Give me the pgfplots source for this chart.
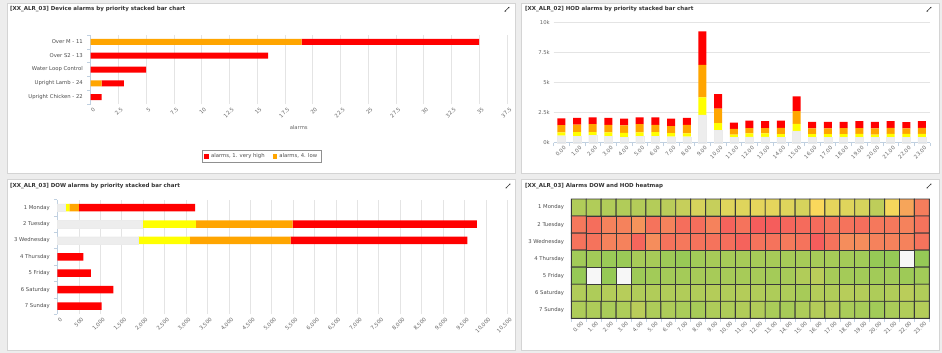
\documentclass[border=0pt]{standalone}
\usepackage{fontspec}
\setmainfont{DejaVu Sans}
\usepackage{pgfplots}
\usepackage{pgfplotstable}
\pgfplotsset{compat=1.18}
\usetikzlibrary{arrows.meta}
\definecolor{bg}{HTML}{EDEDED}
\definecolor{pborder}{HTML}{D4D4D4}
\definecolor{axc}{HTML}{C0D0E0}
\definecolor{gridc}{HTML}{E4E4E4}
\definecolor{txt}{HTML}{666666}
\definecolor{lab}{HTML}{4D4D4D}
\definecolor{ttl}{HTML}{333333}
\definecolor{legc}{HTML}{909090}
\definecolor{hred}{HTML}{FF0000}
\definecolor{horange}{HTML}{FFA500}
\definecolor{hyellow}{HTML}{FFFF00}
\definecolor{hgray}{HTML}{EDEDED}
\definecolor{hmgrid}{HTML}{3A3A3A}
\definecolor{hmwhite}{HTML}{F7F7F7}
\newcommand\tk{\fontsize{5.3}{6}\selectfont}
\newcommand\tf{\fontsize{5.5}{6.5}\selectfont\bfseries}
\pgfplotsset{
  hc/.style={
    scale only axis,
    anchor=north west,
    tick label style={font=\tk, text=txt},
    /pgf/number format/assume math mode=true,
    scaled x ticks=false, scaled y ticks=false,
    tick align=outside,
    major tick length=0pt,
    minor tick length=3.5pt,
    minor tick style={draw=axc, line width=0.5pt},
    major grid style={draw=gridc, line width=0.6pt},
    clip=false,
    axis lines*=left,
  },
  rotx/.style={xticklabel style={rotate=45, anchor=north east, inner sep=0.5pt, yshift=-3pt}},
}
\pgfplotstableread{
h g y o r
0 580 270 610 570
1 550 330 630 550
2 600 280 660 570
3 550 300 630 580
4 440 380 610 570
5 520 330 690 570
6 520 360 600 630
7 500 300 570 630
8 500 270 710 580
9 2320 1440 2710 2770
10 1020 610 1190 1220
11 470 210 460 520
12 490 280 440 630
13 490 280 440 580
14 470 240 530 600
15 990 570 1070 1210
16 470 240 470 550
17 470 240 470 550
18 470 240 500 520
19 470 270 470 580
20 470 210 500 550
21 470 270 500 550
22 470 270 440 520
23 470 270 500 550
}\hod
\pgfplotstableread{
d g y o r
6 175 100 226 2709
5 1965 1268 2257 4300
4 1886 1207 2350 4123
3 0 0 0 602
2 0 0 0 782
1 0 0 0 1302
0 0 0 0 1032
}\dow
\pgfplotstableread{
d o r
4 19 16
3 0 16
2 0 5
1 1 2
0 0 1
}\dev
\begin{document}
\begin{tikzpicture}
\useasboundingbox (0,0) rectangle (942pt,-353pt);
\fill[bg] (0,0) rectangle (942pt,-353pt);
\filldraw[fill=white, draw=pborder, line width=0.6pt] (7pt,-3pt) rectangle (515pt,-173pt);
\filldraw[fill=white, draw=pborder, line width=0.6pt] (521pt,-3pt) rectangle (939pt,-173pt);
\filldraw[fill=white, draw=pborder, line width=0.6pt] (7pt,-179pt) rectangle (515pt,-350pt);
\filldraw[fill=white, draw=pborder, line width=0.6pt] (521pt,-179pt) rectangle (939pt,-350pt);
\node[anchor=west, font=\tf, text=ttl, inner sep=0pt] at (10pt,-9.3pt) {[XX\_ALR\_03] Device alarms by priority stacked bar chart};
\node[anchor=west, font=\tf, text=ttl, inner sep=0pt] at (525pt,-9.3pt) {[XX\_ALR\_02] HOD alarms by priority stacked bar chart};
\node[anchor=west, font=\tf, text=ttl, inner sep=0pt] at (10pt,-186pt) {[XX\_ALR\_03] DOW alarms by priority stacked bar chart};
\node[anchor=west, font=\tf, text=ttl, inner sep=0pt] at (525pt,-186pt) {[XX\_ALR\_03] Alarms DOW and HOD heatmap};
\foreach \p in {{(507pt,-9.3pt)},{(929pt,-9.3pt)},{(508pt,-186pt)},{(929pt,-186pt)}}{
  \draw[ttl, line width=0.5pt, {Latex[length=1.7pt,width=1.7pt]}-{Latex[length=1.7pt,width=1.7pt]}] \p ++(-2.6pt,-2.6pt) -- ++(5.2pt,5.2pt);
}
% ---------- Panel 1 ----------
\begin{axis}[hc, at={(90.5pt,-35pt)}, width=416.5pt, height=69pt,
  xbar stacked, bar width=6pt,
  xmin=0, xmax=37.5, ymin=-0.5, ymax=4.5,
  x axis line style={draw=none}, y axis line style={draw=axc, line width=0.6pt},
  xtick={0,2.5,5,7.5,10,12.5,15,17.5,20,22.5,25,27.5,30,32.5,35,37.5},
  xticklabels={0,2.5,5,7.5,10,12.5,15,17.5,20,22.5,25,27.5,30,32.5,35,37.5},
  xmajorgrids, rotx,
  ytick={0,1,2,3,4},
  yticklabels={Upright Chicken - 22,Upright Lamb - 24,Water Loop Control,Over S2 - 13,Over M - 11},
  minor ytick={-0.5,0.5,1.5,2.5,3.5,4.5},
  yticklabel style={anchor=east, inner sep=0pt, xshift=-7.5pt, text=lab},
  xlabel={alarms}, xlabel style={at={(axis description cs:0.5,-0.348)}, anchor=center, font=\tk, text=txt},
  reverse legend, legend columns=2,
  legend style={at={(0.411,-0.758)}, anchor=center, draw=legc, line width=0.5pt, font=\tk, text=lab,
    inner xsep=2pt, inner ysep=1.5pt, /tikz/every even column/.append style={column sep=6pt}},
  legend image code/.code={\fill[#1] (0pt,-2.4pt) rectangle (4.8pt,2.4pt);},
]
\addplot[fill=horange, draw=none] table[x=o, y=d]{\dev};
\addlegendentry{alarms, 4. low}
\addplot[fill=hred, draw=none] table[x=r, y=d]{\dev};
\addlegendentry{alarms, 1. very high}
\end{axis}
% ---------- Panel 2 ----------
\begin{axis}[hc, at={(553.5pt,-22.3pt)}, width=376.3pt, height=120.4pt,
  ybar stacked, bar width=8pt,
  xmin=-0.5, xmax=23.5, ymin=0, ymax=10000,
  y axis line style={draw=none}, x axis line style={draw=axc, line width=0.6pt},
  ytick={0,2500,5000,7500,10000}, yticklabels={0k,2.5k,5k,7.5k,10k},
  ymajorgrids,
  xtick={0,1,2,3,4,5,6,7,8,9,10,11,12,13,14,15,16,17,18,19,20,21,22,23},
  xticklabels={0.00,1.00,2.00,3.00,4.00,5.00,6.00,7.00,8.00,9.00,10.00,11.00,12.00,13.00,14.00,15.00,16.00,17.00,18.00,19.00,20.00,21.00,22.00,23.00},
  minor xtick={-0.5,0.5,...,23.5}, rotx,
  yticklabel style={anchor=east, inner sep=0pt, xshift=-3.5pt},
]
\addplot[fill=hgray, draw=black!8, line width=0.3pt] table[x=h, y=g]{\hod};
\addplot[fill=hyellow, draw=none] table[x=h, y=y]{\hod};
\addplot[fill=horange, draw=none] table[x=h, y=o]{\hod};
\addplot[fill=hred, draw=none] table[x=h, y=r]{\hod};
\end{axis}
% ---------- Panel 3 ----------
\begin{axis}[hc, at={(57.5pt,-199.5pt)}, width=449.8pt, height=114.7pt,
  xbar stacked, bar width=7.5pt,
  xmin=0, xmax=10500, ymin=-0.5, ymax=6.5,
  x axis line style={draw=none}, y axis line style={draw=axc, line width=0.6pt},
  xtick={0,500,...,10500},
  xticklabels={0,500,{1,000},{1,500},{2,000},{2,500},{3,000},{3,500},{4,000},{4,500},{5,000},{5,500},{6,000},{6,500},{7,000},{7,500},{8,000},{8,500},{9,000},{9,500},{10,000},{10,500}},
  xmajorgrids, rotx,
  ytick={0,1,2,3,4,5,6},
  yticklabels={7 Sunday,6 Saturday,5 Friday,4 Thursday,3 Wednesday,2 Tuesday,1 Monday},
  minor ytick={-0.5,0.5,...,6.5},
  yticklabel style={anchor=east, inner sep=0pt, xshift=-7.5pt, text=lab},
]
\addplot[fill=hgray, draw=black!8, line width=0.3pt] table[x=g, y=d]{\dow};
\addplot[fill=hyellow, draw=none] table[x=y, y=d]{\dow};
\addplot[fill=horange, draw=none] table[x=o, y=d]{\dow};
\addplot[fill=hred, draw=none] table[x=r, y=d]{\dow};
\end{axis}
% ---------- Panel 4 ----------
\begin{axis}[hc, at={(571.3pt,-199pt)}, width=358pt, height=119.3pt,
  xmin=-0.5, xmax=23.5, ymin=-0.5, ymax=6.5,
  y axis line style={draw=none}, x axis line style={draw=axc, line width=0.6pt},
  xtick={0,1,2,3,4,5,6,7,8,9,10,11,12,13,14,15,16,17,18,19,20,21,22,23},
  xticklabels={0.00,1.00,2.00,3.00,4.00,5.00,6.00,7.00,8.00,9.00,10.00,11.00,12.00,13.00,14.00,15.00,16.00,17.00,18.00,19.00,20.00,21.00,22.00,23.00},
  minor xtick={-0.5,0.5,...,23.5}, rotx,
  ytick={0,1,2,3,4,5,6},
  yticklabels={7 Sunday,6 Saturday,5 Friday,4 Thursday,3 Wednesday,2 Tuesday,1 Monday},
  yticklabel style={anchor=east, inner sep=0pt, xshift=-7pt, text=lab},
  colormap={hm}{rgb255(0cm)=(140,200,85) rgb255(20cm)=(164,203,88) rgb255(35cm)=(188,205,90) rgb255(50cm)=(218,212,92) rgb255(62cm)=(250,216,92) rgb255(72cm)=(246,165,90) rgb255(82cm)=(245,135,92) rgb255(92cm)=(245,110,92) rgb255(100cm)=(245,88,92)},
  point meta min=0, point meta max=100,
]
\addplot[matrix plot*, mesh/cols=24, mesh/rows=7, point meta=explicit, draw=hmgrid, line width=0.9pt]
 table[meta=c, row sep=\\]{x y c\\
0 6 28\\ 1 6 28\\ 2 6 28\\ 3 6 28\\ 4 6 30\\ 5 6 30\\ 6 6 34\\ 7 6 40\\ 8 6 48\\ 9 6 40\\ 10 6 52\\ 11 6 52\\ 12 6 54\\ 13 6 54\\ 14 6 52\\ 15 6 48\\ 16 6 62\\ 17 6 54\\ 18 6 52\\ 19 6 48\\ 20 6 36\\ 21 6 60\\ 22 6 72\\ 23 6 86\\
0 5 88\\ 1 5 92\\ 2 5 84\\ 3 5 84\\ 4 5 78\\ 5 5 90\\ 6 5 84\\ 7 5 92\\ 8 5 92\\ 9 5 84\\ 10 5 96\\ 11 5 90\\ 12 5 98\\ 13 5 98\\ 14 5 95\\ 15 5 93\\ 16 5 93\\ 17 5 90\\ 18 5 90\\ 19 5 92\\ 20 5 88\\ 21 5 88\\ 22 5 84\\ 23 5 90\\
0 4 90\\ 1 4 90\\ 2 4 84\\ 3 4 84\\ 4 4 95\\ 5 4 80\\ 6 4 90\\ 7 4 88\\ 8 4 90\\ 9 4 90\\ 10 4 92\\ 11 4 96\\ 12 4 90\\ 13 4 90\\ 14 4 87\\ 15 4 90\\ 16 4 98\\ 17 4 90\\ 18 4 80\\ 19 4 80\\ 20 4 84\\ 21 4 84\\ 22 4 84\\ 23 4 90\\
0 3 18\\ 1 3 18\\ 2 3 12\\ 3 3 12\\ 4 3 22\\ 5 3 22\\ 6 3 15\\ 7 3 10\\ 8 3 18\\ 9 3 22\\ 10 3 22\\ 11 3 22\\ 12 3 22\\ 13 3 22\\ 14 3 22\\ 15 3 22\\ 16 3 22\\ 17 3 22\\ 18 3 20\\ 19 3 18\\ 20 3 8\\ 21 3 8\\ 22 3 0\\ 23 3 8\\
0 2 8\\ 1 2 0\\ 2 2 8\\ 3 2 0\\ 4 2 15\\ 5 2 18\\ 6 2 20\\ 7 2 20\\ 8 2 22\\ 9 2 22\\ 10 2 22\\ 11 2 22\\ 12 2 22\\ 13 2 20\\ 14 2 22\\ 15 2 28\\ 16 2 34\\ 17 2 22\\ 18 2 20\\ 19 2 18\\ 20 2 18\\ 21 2 18\\ 22 2 15\\ 23 2 18\\
0 1 28\\ 1 1 26\\ 2 1 30\\ 3 1 32\\ 4 1 28\\ 5 1 28\\ 6 1 28\\ 7 1 28\\ 8 1 28\\ 9 1 30\\ 10 1 28\\ 11 1 30\\ 12 1 28\\ 13 1 26\\ 14 1 26\\ 15 1 22\\ 16 1 30\\ 17 1 28\\ 18 1 32\\ 19 1 30\\ 20 1 26\\ 21 1 28\\ 22 1 34\\ 23 1 28\\
0 0 26\\ 1 0 26\\ 2 0 24\\ 3 0 26\\ 4 0 34\\ 5 0 26\\ 6 0 26\\ 7 0 24\\ 8 0 22\\ 9 0 26\\ 10 0 26\\ 11 0 28\\ 12 0 28\\ 13 0 24\\ 14 0 22\\ 15 0 26\\ 16 0 30\\ 17 0 30\\ 18 0 24\\ 19 0 22\\ 20 0 18\\ 21 0 24\\ 22 0 28\\ 23 0 30\\
};
\addplot[fill=hmwhite, draw=hmgrid, line width=0.9pt] coordinates {(21.5,2.5) (22.5,2.5) (22.5,3.5) (21.5,3.5) (21.5,2.5)};
\addplot[fill=hmwhite, draw=hmgrid, line width=0.9pt] coordinates {(0.5,1.5) (1.5,1.5) (1.5,2.5) (0.5,2.5) (0.5,1.5)};
\addplot[fill=hmwhite, draw=hmgrid, line width=0.9pt] coordinates {(2.5,1.5) (3.5,1.5) (3.5,2.5) (2.5,2.5) (2.5,1.5)};
\end{axis}
\end{tikzpicture}
\end{document}
